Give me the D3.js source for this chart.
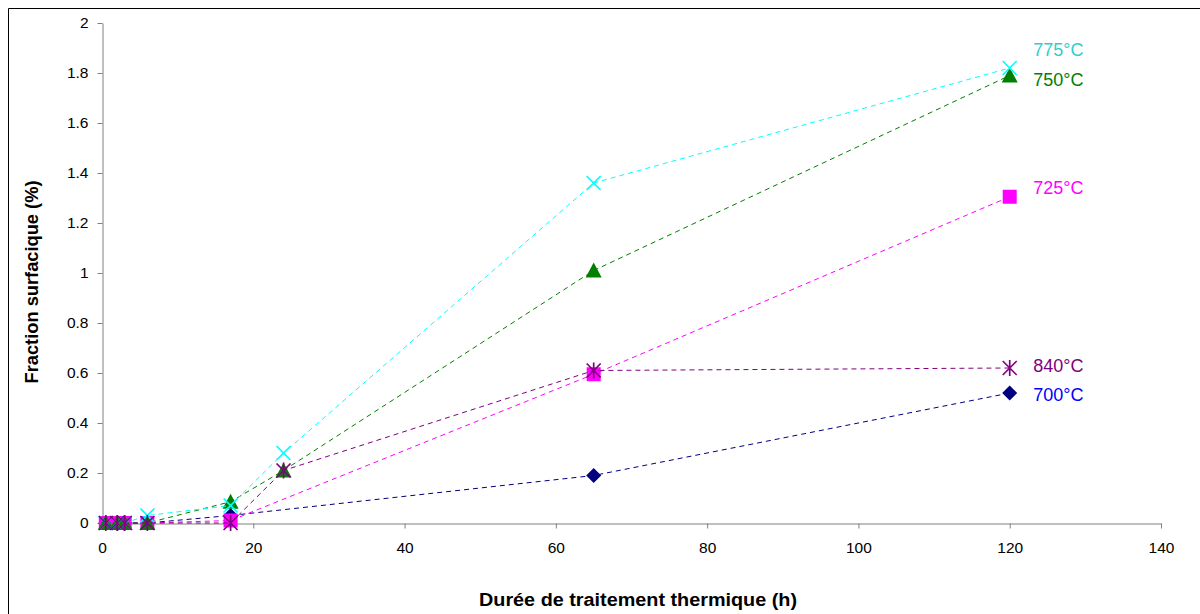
<!DOCTYPE html>
<html><head><meta charset="utf-8">
<script src="https://cdn.jsdelivr.net/npm/d3@7/dist/d3.min.js"></script>
<style>body{margin:0;background:#fff;}svg{display:block;font-family:Arial,"Liberation Sans",sans-serif;}</style>
</head><body><svg id="c" width="1200" height="614"></svg>
<script>
const hours = [0.5, 2, 3, 6, 17, 24, 65, 120];
const s700 = [0, 0, 0, 0, 0.03, null, 0.19, 0.52];
const s725 = [0, 0, 0, 0, 0.01, null, 0.595, 1.305];
const s750 = [0, 0, 0, 0, 0.085, 0.21, 1.01, 1.79];
const s775 = [0, 0, 0, 0.03, 0.07, 0.28, 1.36, 1.82];
const s840 = [0, 0, 0, 0, 0, 0.21, 0.61, 0.62];
const seriesNames = ["700°C", "725°C", "750°C", "775°C", "840°C"];
const labelAt = [0.515, 1.34, 1.775, 1.895, 0.63];
const xTicks = [0, 20, 40, 60, 80, 100, 120, 140];
const yTicks = [0, 0.2, 0.4, 0.6, 0.8, 1, 1.2, 1.4, 1.6, 1.8, 2];
const xTitle = "Durée de traitement thermique (h)";
const yTitle = "Fraction surfacique (%)";

const seriesData = [s700, s725, s750, s775, s840];
const styles = [
  {line:"#000080", mark:"#000080", label:"#0000FF", shape:"diamond"},
  {line:"#FF00FF", mark:"#FF00FF", label:"#FF00FF", shape:"square"},
  {line:"#008000", mark:"#008000", label:"#008000", shape:"triangle"},
  {line:"#00FFFF", mark:"#00FFFF", label:"#33CCCC", shape:"x"},
  {line:"#800080", mark:"#800080", label:"#800080", shape:"star"}
];

const svg = d3.select("#c");
svg.append("path").attr("d","M8.5,614 V8.5 H1200").attr("fill","none").attr("stroke","#000").attr("stroke-width",1);

const x = d3.scaleLinear().domain([0,140]).range([102,1161]);
const y = d3.scaleLinear().domain([0,2]).range([523,23]);

const axisColor = "#808080";
const gx = svg.append("g").attr("transform","translate(0,523.5)")
  .call(d3.axisBottom(x).tickValues(xTicks).tickSize(5).tickSizeOuter(0).tickPadding(13));
const gy = svg.append("g").attr("transform","translate(102.5,0)")
  .call(d3.axisLeft(y).tickValues(yTicks).tickSize(5).tickSizeOuter(0).tickPadding(9)
  .tickFormat(d => String(+d.toFixed(1))));
[gx, gy].forEach(g => {
  g.select(".domain").attr("stroke", axisColor);
  g.selectAll(".tick line").attr("stroke", axisColor);
  g.selectAll(".tick text").attr("fill","#000").attr("font-size","15.5px").attr("font-family","Arial, 'Liberation Sans', sans-serif");
});

svg.append("text").attr("x",638).attr("y",606).attr("text-anchor","middle")
  .attr("font-size","18px").attr("font-weight","bold")
  .attr("textLength",318).attr("lengthAdjust","spacingAndGlyphs").text(xTitle);
svg.append("text").attr("transform","translate(38,282) rotate(-90)").attr("text-anchor","middle")
  .attr("font-size","18px").attr("font-weight","bold")
  .attr("textLength",203).attr("lengthAdjust","spacingAndGlyphs").text(yTitle);

const line = d3.line().x(d => x(d.h)).y(d => y(d.v));

function drawMarker(g, shape, color, cx, cy) {
  const r = 7;
  if (shape === "diamond") {
    g.append("path").attr("d",`M${cx},${cy-r-0.5} L${cx+r+0.5},${cy} L${cx},${cy+r+0.5} L${cx-r-0.5},${cy} Z`).attr("fill",color);
  } else if (shape === "square") {
    g.append("rect").attr("x",cx-r).attr("y",cy-r).attr("width",2*r).attr("height",2*r).attr("fill",color);
  } else if (shape === "triangle") {
    g.append("path").attr("d",`M${cx},${cy-r-1} L${cx+r+1},${cy+r} L${cx-r-1},${cy+r} Z`).attr("fill",color);
  } else if (shape === "x") {
    g.append("path").attr("d",`M${cx-r},${cy-r} L${cx+r},${cy+r} M${cx+r},${cy-r} L${cx-r},${cy+r}`).attr("stroke",color).attr("stroke-width",1.7).attr("fill","none");
  } else if (shape === "star") {
    g.append("path").attr("d",`M${cx-r},${cy-r} L${cx+r},${cy+r} M${cx+r},${cy-r} L${cx-r},${cy+r} M${cx},${cy-r-1} L${cx},${cy+r+1}`).attr("stroke",color).attr("stroke-width",1.7).attr("fill","none");
  }
}

seriesData.forEach((vals, i) => {
  const st = styles[i];
  const pts = hours.map((h, j) => ({h, v: vals[j]})).filter(d => d.v !== null);
  const g = svg.append("g");
  g.append("path").datum(pts).attr("d", line).attr("fill","none")
    .attr("stroke", st.line).attr("stroke-width",1).attr("stroke-dasharray","5,4");
  pts.forEach(d => drawMarker(g, st.shape, st.mark, x(d.h), y(d.v)));
});

seriesData.forEach((vals, i) => {
  svg.append("text").attr("x", x(123.1)).attr("y", y(labelAt[i])).attr("dy","0.35em")
    .attr("font-size","18px").attr("fill", styles[i].label).text(seriesNames[i]);
});
</script></body></html>
